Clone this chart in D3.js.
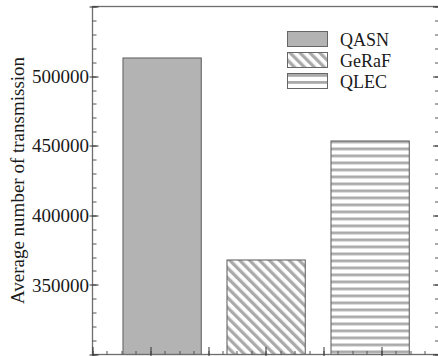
<!DOCTYPE html>
<html>
<head>
<meta charset="utf-8">
<script src="https://cdn.jsdelivr.net/npm/d3@7"></script>
<style>
  body { margin: 0; background: #fff; }
</style>
</head>
<body>
<script>

// chart data
var protocols = ["QASN", "GeRaF", "QLEC"];
var transmissions = [513500, 368000, 453500];
var yTickLabels = [350000, 400000, 450000, 500000];

var serif = "'Liberation Serif', 'Times New Roman', Times, 'DejaVu Serif', serif";

// define canvas variables
var W = 438, H = 356;
var margin = {top: 6.5, right: -1, bottom: 1.5, left: 92.5},
    width = W - margin.left - margin.right,
    height = H - margin.top - margin.bottom;

var svg = d3.select("body").append("svg")
    .attr("width", W)
    .attr("height", H);

// fill patterns
var defs = svg.append("defs");

var diag = defs.append("pattern")
    .attr("id", "diag")
    .attr("patternUnits", "userSpaceOnUse")
    .attr("width", 7)
    .attr("height", 7)
    .attr("patternTransform", "rotate(-45)");
diag.append("rect").attr("width", 7).attr("height", 7).attr("fill", "#fff");
diag.append("rect").attr("width", 3.3).attr("height", 7).attr("fill", "#aaaaaa");

var horiz = defs.append("pattern")
    .attr("id", "horiz")
    .attr("patternUnits", "userSpaceOnUse")
    .attr("width", 7)
    .attr("height", 7);
horiz.append("rect").attr("width", 7).attr("height", 7).attr("fill", "#fff");
horiz.append("rect").attr("y", 1).attr("width", 7).attr("height", 2.8).attr("fill", "#aaaaaa");

var fills = ["#b3b3b3", "url(#diag)", "url(#horiz)"];

var g = svg.append("g")
    .attr("transform", "translate(" + margin.left + "," + margin.top + ")");

// scales
var x = d3.scaleBand()
    .domain(protocols)
    .range([0, width])
    .paddingInner(0.25)
    .paddingOuter(0.285);

var xTicks = d3.scaleLinear().domain([0, 6]).range([0, width]);

var y = d3.scaleLinear()
    .domain([300000, 550000])
    .range([height, 0]);

// bars
g.selectAll(".bar")
    .data(transmissions)
    .enter().append("rect")
    .attr("class", "bar")
    .attr("x", function(d, i) { return Math.round(x(protocols[i])) + 0.5; })
    .attr("y", function(d) { return Math.round(y(d)) + 0.5; })
    .attr("width", x.bandwidth())
    .attr("height", function(d) { return height - Math.round(y(d)) - 0.5; })
    .attr("fill", function(d, i) { return fills[i]; })
    .attr("stroke", "#666")
    .attr("stroke-width", 1.1);

// frame
g.append("rect")
    .attr("width", width)
    .attr("height", height)
    .attr("fill", "none")
    .attr("stroke", "#6e6e6e")
    .attr("stroke-width", 1.3);

// y ticks, left and right
var yMinor = d3.range(300000, 550001, 10000);
var yMajor = d3.range(300000, 550001, 50000);

var tickColor = "#555";
[0, width].forEach(function(x0, side) {
    var dir = side === 0 ? 1 : -1;
    g.selectAll(".ymin" + side)
        .data(yMinor)
        .enter().append("line")
        .attr("x1", x0).attr("x2", x0 + dir * 4)
        .attr("y1", function(d) { return Math.round(y(d)) + 0.5; })
        .attr("y2", function(d) { return Math.round(y(d)) + 0.5; })
        .attr("stroke", tickColor);
    g.selectAll(".ymaj" + side)
        .data(yMajor)
        .enter().append("line")
        .attr("x1", x0 - dir * 3).attr("x2", x0 + dir * 6)
        .attr("y1", function(d) { return Math.round(y(d)) + 0.5; })
        .attr("y2", function(d) { return Math.round(y(d)) + 0.5; })
        .attr("stroke", "#333");
});

// x ticks
g.selectAll(".xmin")
    .data(d3.range(0, 6.01, 0.25))
    .enter().append("line")
    .attr("x1", function(d) { return Math.round(xTicks(d)) + 0.5; })
    .attr("x2", function(d) { return Math.round(xTicks(d)) + 0.5; })
    .attr("y1", height).attr("y2", height - 3.5)
    .attr("stroke", tickColor);

g.selectAll(".xmaj")
    .data(d3.range(0, 7, 1))
    .enter().append("line")
    .attr("x1", function(d) { return Math.round(xTicks(d)) + 0.5; })
    .attr("x2", function(d) { return Math.round(xTicks(d)) + 0.5; })
    .attr("y1", height + 3).attr("y2", height - 7.5)
    .attr("stroke", "#333");

// y tick labels
g.selectAll(".ylab")
    .data(yTickLabels)
    .enter().append("text")
    .attr("x", -3.5)
    .attr("y", function(d) { return y(d); })
    .attr("dy", "0.35em")
    .attr("text-anchor", "end")
    .attr("font-family", serif)
    .attr("font-size", 19)
    .attr("fill", "#1a1a1a")
    .text(function(d) { return d; });

// y axis title
svg.append("text")
    .attr("transform", "translate(23.5," + (margin.top + height / 2) + ") rotate(-90)")
    .attr("text-anchor", "middle")
    .attr("font-family", serif)
    .attr("font-size", 19)
    .attr("fill", "#1a1a1a")
    .text("Average number of transmission");

// legend
var legend = svg.append("g")
    .attr("transform", "translate(287,31)");

var item = legend.selectAll(".item")
    .data(protocols)
    .enter().append("g")
    .attr("transform", function(d, i) { return "translate(0," + (i * 21) + ")"; });

item.append("rect")
    .attr("x", 0.5)
    .attr("y", 0.5)
    .attr("width", 40)
    .attr("height", 15)
    .attr("fill", function(d, i) { return fills[i]; })
    .attr("stroke", "#666");

item.append("text")
    .attr("x", 53)
    .attr("y", 15)
    .attr("font-family", serif)
    .attr("font-size", 18)
    .attr("fill", "#1a1a1a")
    .text(function(d) { return d; });

</script>
</body>
</html>
